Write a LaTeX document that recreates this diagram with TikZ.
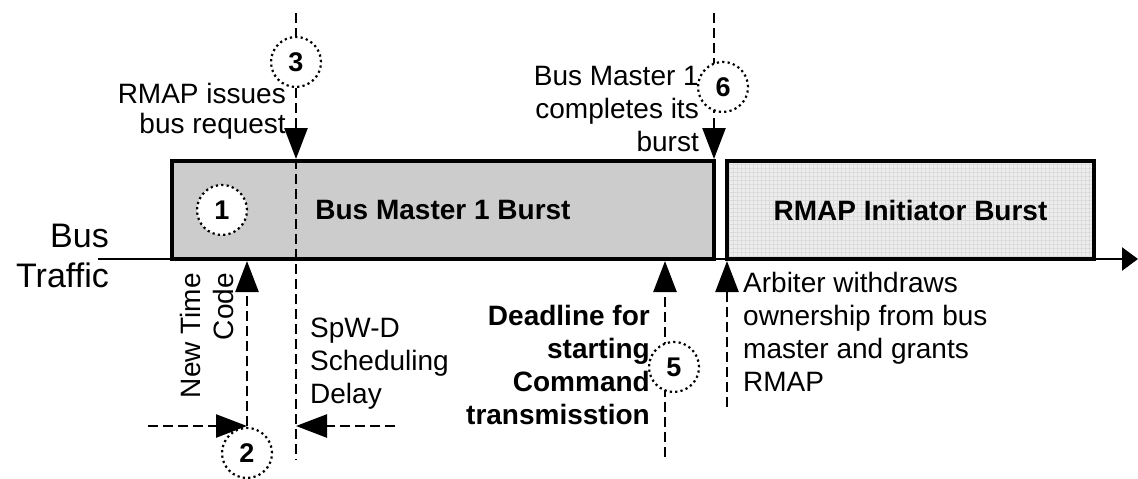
\documentclass[tikz,border=0pt]{standalone}
\usepackage{fontspec}
\setmainfont{Liberation Sans}
\usetikzlibrary{arrows.meta}

\begin{document}
\begin{tikzpicture}[x=1pt,y=-1pt,
  burst/.style={draw=black, line width=4pt, inner sep=0pt,
    font=\fontsize{28}{33}\selectfont\bfseries},
  tag/.style={circle, draw=black, fill=white, line width=2.2pt,
    dash pattern=on 2.2pt off 3.2pt, minimum size=50pt, inner sep=0pt,
    font=\fontsize{27}{27}\selectfont\bfseries},
  note/.style={inner sep=0pt, font=\fontsize{28}{33}\selectfont},
  boldnote/.style={inner sep=0pt, font=\fontsize{28}{33}\selectfont\bfseries},
  cue/.style={line width=2.5pt, dash pattern=on 10pt off 5pt,
    -{Triangle[length=31pt,width=23pt]}},
  trail/.style={line width=2.5pt, dash pattern=on 10pt off 5pt},
]
\useasboundingbox (0,0) rectangle (1138,479);

% time axis
\coordinate (axisL) at (98,259);
\coordinate (axisR) at (1138,259);
\draw[line width=2.5pt, -{Triangle[length=16pt,width=23pt]}] (axisL) -- (axisR);

% bursts on the bus
\node[burst, fill=black!20, minimum width=542pt, minimum height=98pt]
  (b1) at (443,210) {Bus Master 1 Burst};
\node[burst, fill=black!7, minimum width=367pt, minimum height=98pt,
  path picture={\draw[black!14, line width=0.4pt]
    (path picture bounding box.south west) grid[step=4pt]
    (path picture bounding box.north east);}]
  (b2) at (910.5,210) {RMAP Initiator Burst};

% event markers
\coordinate (r3top) at (296,13);
\coordinate (r3bot) at (296,460);
\draw[cue] (r3top) -- (r3top |- b1.north);
\draw[trail] (r3top |- b1.north) -- (r3bot);

\coordinate (r6top) at (714,13);
\draw[cue] (r6top) -- (r6top |- b1.north);

\coordinate (s2) at (148,426);
\coordinate (k2) at (247,426);
\draw[cue] (s2) -- (k2);
\draw[cue] (k2) -- (k2 |- b1.south);

\coordinate (s3) at (395,426);
\draw[cue] (s3) -- (s3 -| r3top);

\coordinate (r5) at (665,457);
\draw[cue] (r5) -- (r5 |- b1.south);

\coordinate (ra) at (727,407);
\draw[cue] (ra) -- (ra |- b2.south);

% numbered tags
\node[tag] (c1) at (222,210) {1};
\node[tag] (c2) at (247,453) {2};
\node[tag] (c3) at (296,62) {3};
\node[tag] (c5) at (674,367) {5};
\node[tag] (c6) at (723,87) {6};

% labels
\node[inner sep=0pt, align=right, anchor=north east,
  font=\fontsize{34}{40}\selectfont] (bus) at (109,223.5) {Bus\\Traffic};
\node[inner sep=0pt, align=right, anchor=north east,
  font=\fontsize{28}{30}\selectfont] (t3) at (286,83.5) {RMAP issues\\bus request};
\node[note, align=right, anchor=north east] (t6) at (699,66)
  {Bus Master 1\\completes its\\burst};
\node[note, align=right, anchor=north east, rotate=90] (ntc) at (180,273)
  {New Time\\Code};
\node[note, align=left, anchor=north west] (spw) at (310,317.5)
  {SpW-D\\Scheduling\\Delay};
\node[boldnote, align=right, anchor=north east] (dl) at (650,305)
  {Deadline for\\starting\\Command\\transmisstion};
\node[note, align=left, anchor=north west] (arb) at (743,272)
  {Arbiter withdraws\\ownership from bus\\master and grants\\RMAP};
\end{tikzpicture}
\end{document}
